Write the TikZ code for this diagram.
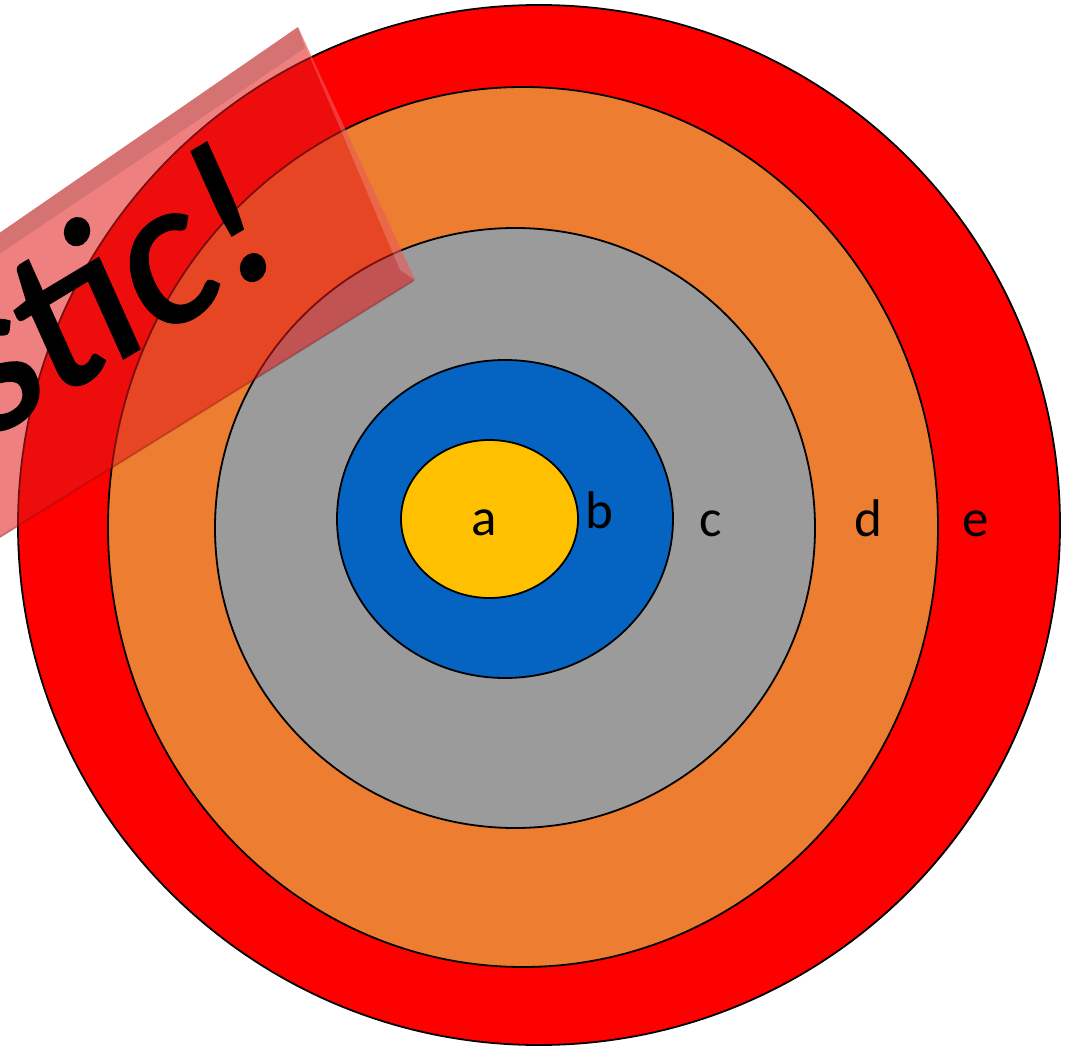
\documentclass[tikz,border=0pt]{standalone}
\usepackage{fontspec}
\setmainfont{Carlito}
\newfontfamily\bannerfont{Carlito}[FakeBold=1.2]
\begin{document}
\begin{tikzpicture}[x=1pt,y=-1pt,
  ring/.style={draw=black,line width=1.8pt},
  lbl/.style={anchor=base,font=\fontsize{53}{60}\selectfont,inner sep=0pt}]
\definecolor{cE}{RGB}{255,0,0}
\definecolor{cD}{RGB}{237,125,49}
\definecolor{cC}{RGB}{155,155,155}
\definecolor{cB}{RGB}{5,99,193}
\definecolor{cA}{RGB}{255,192,0}
\definecolor{banner}{RGB}{225,25,25}
\useasboundingbox (0,0) rectangle (1070,1048);
\fill[white] (0,0) rectangle (1070,1048);
% rings
\path[ring,fill=cE] (539,525) ellipse [x radius=521,y radius=520];
\path[ring,fill=cD] (523,527) ellipse [x radius=415,y radius=440];
\path[ring,fill=cC] (515,528) ellipse [x radius=300,y radius=300];
\path[ring,fill=cB] (505,519) ellipse [x radius=168,y radius=159];
\path[ring,fill=cA] (489.5,519) ellipse [x radius=88.5,y radius=79];
% labels
\node[lbl] (la) at (484,535) {a};
\node[lbl] (lb) at (599,528) {b};
\node[lbl] (lc) at (711,536) {c};
\node[lbl] (ld) at (868,536) {d};
\node[lbl] (le) at (976,536) {e};
% banner
\begin{scope}
\clip (0,0) rectangle (1070,1048);
\fill[banner,opacity=0.55] (298,27) -- (415,280) -- (-60,575) -- (-60,274) -- cycle;
\fill[black,opacity=0.10] (298,27) -- (305,48) -- (-60,294) -- (-60,274) -- cycle;
\fill[white,opacity=0.18] (298,27) -- (415,280) -- (400,270) -- (307,50) -- cycle;
\draw[black,opacity=0.15,line width=2pt] (413,281) -- (-60,574);
\begin{scope}[shift={(287,260)},rotate=31,xslant=0.12]
\node[transform shape,anchor=base east,inner sep=0pt,font=\fontsize{210}{215}\bannerfont] (txt) at (0,0) {stic!};
\end{scope}
\end{scope}
\end{tikzpicture}
\end{document}
